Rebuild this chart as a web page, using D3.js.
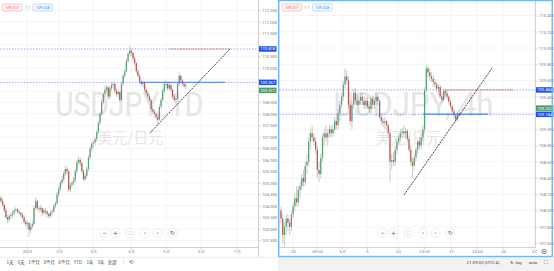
<!DOCTYPE html>
<html><head><meta charset="utf-8">
<script src="https://cdn.jsdelivr.net/npm/d3@7"></script>
<style>body{margin:0;background:#fff;overflow:hidden}svg{display:block;font-family:Roboto,"Noto Sans CJK SC",sans-serif}</style>
</head><body><svg id="c" width="554" height="271"></svg>
<script>
// ---------- DATA ----------
// Left: USDJPY daily candles [open, high, low, close]
const leftCandles = [
[104.35,104.45,104.1,104.2],[104.2,104.3,103.95,104.05],[104.05,104.1,103.7,103.8],[103.8,103.9,103.4,103.5],
[103.5,103.6,103.25,103.4],[103.4,103.65,103.3,103.55],[103.55,103.7,103.45,103.6],[103.6,103.8,103.5,103.7],
[103.7,103.9,103.6,103.8],[103.8,103.95,103.7,103.85],[103.85,103.9,103.65,103.75],[103.75,103.85,103.6,103.7],
[103.7,103.75,103.5,103.6],[103.6,103.7,103.4,103.5],[103.5,103.6,103.2,103.3],[103.3,103.4,103.1,103.2],
[103.2,103.35,103.0,103.25],[103.25,103.3,102.65,102.95],[102.95,103.25,102.8,103.1],[103.1,103.35,103.0,103.2],
[103.2,104.0,103.15,103.9],[103.9,104.35,103.8,104.2],[104.2,104.25,103.8,103.9],[103.9,104.0,103.7,103.85],
[103.85,104.05,103.75,103.9],[103.9,103.95,103.55,103.7],[103.7,103.9,103.6,103.8],[103.8,103.9,103.6,103.75],
[103.75,103.8,103.5,103.65],[103.65,103.7,103.45,103.55],[103.55,103.8,103.5,103.7],[103.7,103.85,103.6,103.75],
[103.75,104.1,103.7,104.0],[104.0,104.2,103.9,104.1],[104.1,104.6,104.05,104.5],[104.5,104.85,104.4,104.75],
[104.75,105.1,104.65,105.0],[105.0,105.3,104.9,105.15],[105.15,105.5,105.05,105.4],[105.4,105.75,105.3,105.6],
[105.6,105.7,105.35,105.5],[105.5,105.55,104.6,104.7],[104.7,105.0,104.6,104.9],[104.9,105.1,104.8,105.0],
[105.0,105.25,104.9,105.1],[105.1,105.6,105.05,105.5],[105.5,106.0,105.4,105.9],[105.9,106.15,105.8,106.0],
[106.0,106.1,105.7,105.85],[105.85,105.9,105.4,105.5],[105.5,105.6,105.1,105.15],[105.15,105.4,105.05,105.3],
[105.3,105.7,105.2,105.6],[105.6,106.2,105.5,106.1],[106.1,106.6,106.0,106.5],[106.5,106.8,106.35,106.7],
[106.7,106.85,106.5,106.75],[106.75,107.0,106.6,106.9],[106.9,107.3,106.8,107.2],[107.2,107.7,107.1,107.6],
[107.6,108.1,107.5,108.0],[108.0,108.65,107.9,108.5],[108.5,108.95,108.4,108.85],[108.85,109.2,108.7,109.05],
[109.05,109.25,108.9,109.15],[109.15,109.2,108.6,108.75],[108.75,109.2,108.65,109.1],[109.1,109.35,109.0,109.25],
[109.25,109.4,109.1,109.3],[109.3,109.35,108.9,109.0],[109.0,109.1,108.75,108.85],[108.85,109.05,108.7,108.95],
[108.95,109.0,108.5,108.6],[108.6,109.4,108.55,109.3],[109.3,109.75,109.2,109.65],[109.65,109.95,109.55,109.85],
[109.85,110.4,109.8,110.3],[110.3,110.7,110.2,110.6],[110.6,110.95,110.5,110.75],[110.75,110.85,110.5,110.65],
[110.65,110.7,110.3,110.4],[110.4,110.5,110.1,110.2],[110.2,110.25,109.75,109.85],[109.85,109.95,109.55,109.65],
[109.65,109.75,109.3,109.4],[109.4,109.5,109.2,109.3],[109.3,109.45,109.15,109.35],[109.35,109.4,108.95,109.05],
[109.05,109.15,108.8,108.9],[108.9,109.0,108.65,108.75],[108.75,108.85,108.5,108.6],[108.6,108.65,108.1,108.2],
[108.2,108.35,108.0,108.1],[108.1,108.2,107.85,108.0],[108.0,108.1,107.7,107.85],[107.85,108.0,107.5,107.75],
[107.75,108.4,107.7,108.3],[108.3,108.7,108.2,108.6],[108.6,109.1,108.5,109.0],[109.0,109.4,108.9,109.3],
[109.3,109.45,109.15,109.3],[109.3,109.4,109.0,109.1],[109.1,109.35,109.0,109.25],[109.25,109.3,108.95,109.05],
[109.05,109.1,108.65,108.75],[108.75,108.85,108.5,108.6],[108.6,108.75,108.4,108.65],[108.65,109.4,108.6,109.3],
[109.3,109.8,109.2,109.65],[109.65,109.7,109.35,109.45],[109.45,109.5,109.2,109.3],[109.3,109.35,109.1,109.2],
[109.2,109.35,109.1,109.25]
];
// Right: USDJPY 4h candles [open, high, low, close]
const rightCandles = [
[108.0,108.05,107.85,107.9],[107.9,107.95,107.6,107.7],[107.7,107.85,107.55,107.8],[107.8,107.95,107.7,107.9],
[107.9,107.95,107.75,107.85],[107.85,107.9,107.7,107.8],[107.8,108.0,107.75,107.95],[107.95,108.1,107.9,108.05],
[108.05,108.2,108.0,108.15],[108.15,108.3,108.05,108.1],[108.1,108.3,108.05,108.25],[108.25,108.35,108.15,108.3],
[108.3,108.45,108.25,108.4],[108.4,108.5,108.3,108.35],[108.35,108.6,108.3,108.55],[108.55,108.7,108.45,108.6],
[108.6,108.9,108.55,108.85],[108.85,109.0,108.75,108.95],[108.95,109.05,108.85,108.9],[108.9,108.95,108.8,108.85],
[108.85,108.9,108.7,108.75],[108.75,108.8,108.4,108.5],[108.5,108.6,108.35,108.45],[108.45,108.7,108.4,108.65],
[108.65,108.95,108.6,108.9],[108.9,109.0,108.8,108.95],[108.95,109.05,108.85,108.9],[108.9,109.0,108.8,108.95],
[108.95,109.05,108.9,109.0],[109.0,109.05,108.9,108.95],[108.95,109.05,108.9,109.0],[109.0,109.15,108.95,109.1],
[109.1,109.2,109.0,109.05],[109.05,109.25,109.0,109.2],[109.2,109.35,109.1,109.3],[109.3,109.45,109.25,109.4],
[109.4,109.6,109.35,109.55],[109.55,109.75,109.5,109.65],[109.65,109.72,109.55,109.6],[109.6,109.65,109.25,109.3],
[109.3,109.35,109.05,109.1],[109.1,109.35,109.0,109.3],[109.3,109.5,109.25,109.45],[109.45,109.5,109.3,109.35],
[109.35,109.45,109.25,109.3],[109.3,109.4,109.2,109.35],[109.35,109.45,109.3,109.4],[109.4,109.45,109.3,109.35],
[109.35,109.4,109.25,109.3],[109.3,109.4,109.25,109.35],[109.35,109.4,109.25,109.28],[109.28,109.35,109.2,109.25],
[109.25,109.4,109.2,109.38],[109.38,109.42,109.25,109.3],[109.3,109.4,109.25,109.35],[109.35,109.45,109.3,109.4],
[109.4,109.42,109.3,109.35],[109.35,109.36,109.12,109.15],[109.15,109.2,109.05,109.1],[109.1,109.15,109.02,109.08],
[109.08,109.15,109.0,109.1],[109.1,109.12,109.0,109.05],[109.05,109.08,108.9,108.95],[108.95,109.0,108.35,108.6],
[108.6,108.7,108.5,108.62],[108.62,108.72,108.55,108.6],[108.6,108.8,108.55,108.75],[108.75,108.88,108.7,108.85],
[108.85,108.95,108.8,108.9],[108.9,109.0,108.85,108.95],[108.95,109.02,108.88,108.97],[108.97,109.05,108.9,108.95],
[108.95,109.02,108.88,108.98],[108.98,109.0,108.85,108.88],[108.88,108.92,108.72,108.75],[108.75,108.8,108.55,108.6],
[108.6,108.65,108.4,108.55],[108.55,108.7,108.5,108.65],[108.65,108.78,108.6,108.75],[108.75,108.88,108.7,108.85],
[108.85,108.9,108.75,108.8],[108.8,108.95,108.75,108.9],[108.9,109.05,108.85,109.0],[109.0,109.52,108.95,109.48],
[109.48,109.8,109.45,109.75],[109.75,109.78,109.65,109.7],[109.7,109.74,109.6,109.65],[109.65,109.7,109.58,109.62],
[109.62,109.66,109.52,109.58],[109.58,109.62,109.5,109.55],[109.55,109.58,109.45,109.5],[109.5,109.55,109.42,109.52],
[109.52,109.55,109.38,109.4],[109.4,109.45,109.32,109.36],[109.36,109.5,109.34,109.47],[109.47,109.5,109.4,109.44],
[109.44,109.48,109.36,109.4],[109.4,109.42,109.3,109.34],[109.34,109.37,109.25,109.28],[109.28,109.3,109.18,109.22],
[109.22,109.25,109.12,109.17],[109.17,109.2,109.08,109.12],[109.12,109.22,109.1,109.2],[109.2,109.24,109.15,109.18]
];
const leftPriceTicks = [102.5,103,103.5,104,104.5,105,105.5,106,106.5,107,107.5,108,108.5,109,109.5,110,110.5,111,111.5,112,112.5];
const rightPriceTicks = [107.6,107.8,108,108.2,108.4,108.6,108.8,109,109.2,109.4,109.6,109.8,110,110.2,110.4];
const leftTimeLabels = ["2021","2月","3月","4月","5月","6月","7月"];
const leftTimeIdx = [15.8,35.2,55.8,78.8,100,121.2,143];
const rightTimeLabels = ["26","09:00","5月","5","10","13:00","17","13:00","24","27"];
const rightTimeIdx = [6.9,20.8,35.3,49.7,67.6,82.7,98.3,113.3,128.3,146.2];
// horizontal levels [price, segStartIdx, segEndIdx, kind]
const leftLevels = [[110.818,102.4,138.8,"red"],[109.367,84.2,135.8,"blue"]];
const rightLevels = [[109.484,94.8,134,"red"],[109.184,82,119.6,"blue"]];
// trend lines [idx1, price1, idx2, price2]
const leftTrend = [90.3,107.17,139.4,110.86];
const rightTrend = [71.1,108.19,122,109.754];
// axis badges [price-position, text, colour]
const leftBadges = [[110.818,"110.818","blue"],[109.367,"109.367","blue"],[109.02,"109.317","green"]];
const rightBadges = [[109.484,"109.484","blue"],[109.26,"109.251","green"],[109.184,"109.184","blue"]];
const quoteLeft = ["109.317","1.1","109.328"];
const quoteRight = ["109.317","1.1","109.328"];
const rangeButtons = ["1天","5天","1个月","3个月","6个月","YTD","1年","5年","全部"];

// ---------- DRAW ----------
const svg = d3.select('#c');
const UP = "#52a06f", DN = "#b5544a", WICK = "#a8a8a8";
const badgeCol = {blue:"#2150f0", green:"#4f9a6c"};

function panel(cfg){
  const g = svg.append('g');
  const x = d3.scaleLinear().domain([0,1]).range([cfg.x0, cfg.x0+cfg.step]);
  const y = d3.scaleLinear().domain(cfg.yDom).range(cfg.yRng);
  const cid = 'clip'+cfg.id;
  svg.append('clipPath').attr('id',cid).append('rect')
    .attr('x',cfg.left).attr('y',0).attr('width',cfg.axisX-cfg.left).attr('height',cfg.bottom);
  const plot = g.append('g').attr('clip-path',`url(#${cid})`);
  // grid
  plot.selectAll('.vg').data(cfg.tIdx).join('line').attr('class','vg')
    .attr('x1',d=>x(d)).attr('x2',d=>x(d)).attr('y1',0).attr('y2',cfg.bottom)
    .attr('stroke','#eef0f4').attr('stroke-width',0.7);
  plot.selectAll('.hg').data(cfg.pTicks).join('line').attr('class','hg')
    .attr('x1',cfg.left).attr('x2',cfg.axisX).attr('y1',d=>y(d)).attr('y2',d=>y(d))
    .attr('stroke','#eef0f4').attr('stroke-width',0.7);
  // watermark
  const cx = (cfg.left+cfg.axisX)/2;
  plot.append('text').attr('x',cx+cfg.wmDx).attr('y',116).attr('text-anchor','middle')
    .attr('font-size',33).attr('fill','#e5e5e5').attr('textLength',cfg.wmLen).attr('lengthAdjust','spacingAndGlyphs')
    .text(cfg.wm);
  plot.append('text').attr('x',cx+1).attr('y',143).attr('text-anchor','middle')
    .attr('font-size',15).attr('fill','#e5e5e5').attr('font-family','"Noto Sans CJK SC"').text('美元/日元');
  // level lines
  plot.selectAll('.lvl').data(cfg.levels).join('line').attr('class','lvl')
    .attr('x1',cfg.left).attr('x2',cfg.axisX).attr('y1',d=>y(d[0])).attr('y2',d=>y(d[0]))
    .attr('stroke','#8a8af2').attr('stroke-width',0.8).attr('stroke-dasharray','1.5,1.5');
  // candles
  const cg = plot.append('g');
  cg.selectAll('.wk').data(cfg.data).join('line').attr('class','wk')
    .attr('x1',(d,i)=>x(i)).attr('x2',(d,i)=>x(i)).attr('y1',d=>y(d[1])).attr('y2',d=>y(d[2]))
    .attr('stroke',WICK).attr('stroke-width',0.6);
  cg.selectAll('.bd').data(cfg.data).join('rect').attr('class','bd')
    .attr('x',(d,i)=>x(i)-0.6).attr('width',1.2)
    .attr('y',d=>y(Math.max(d[0],d[3])))
    .attr('height',d=>Math.max(0.7,Math.abs(y(d[0])-y(d[3]))))
    .attr('fill',d=>d[3]>=d[0]?UP:DN);
  // level segments
  plot.selectAll('.seg').data(cfg.levels).join('line').attr('class','seg')
    .attr('x1',d=>x(d[1])).attr('x2',d=>x(d[2])).attr('y1',d=>y(d[0])).attr('y2',d=>y(d[0]))
    .attr('stroke',d=>d[3]==='red'?'#e46a6a':'#3f7de8')
    .attr('stroke-width',d=>d[3]==='red'?1.2:1.4)
    .attr('stroke-dasharray',d=>d[3]==='red'?'1.5,0.8':null)
    .attr('opacity',d=>d[3]==='red'?0.85:0.75);
  // trend
  const t = cfg.trend;
  plot.append('line').attr('x1',x(t[0])).attr('y1',y(t[1])).attr('x2',x(t[2])).attr('y2',y(t[3]))
    .attr('stroke','#2a2a44').attr('stroke-width',0.9).attr('stroke-dasharray','2,1');
  // price axis
  g.append('line').attr('x1',cfg.axisX).attr('x2',cfg.axisX).attr('y1',0).attr('y2',cfg.axisBottom)
    .attr('stroke','#c7c7c7').attr('stroke-width',0.8);
  const pa = g.append('g').attr('transform',`translate(${cfg.axisX},0)`)
    .call(d3.axisRight(y).tickValues(cfg.pTicks).tickSize(2).tickPadding(1.5).tickFormat(d3.format('.3f')));
  pa.select('.domain').remove();
  pa.selectAll('line').attr('stroke','#aaa').attr('stroke-width',0.5);
  pa.selectAll('text').attr('font-size',4.2).attr('fill','#7a7a7a').attr('font-family','Roboto');
  // hide tick labels covered by badges (as the platform does)
  pa.selectAll('.tick').filter(d=>cfg.badges.some(b=>Math.abs(y(b[0])-y(d))<5.6)).select('text').remove();
  // badges
  const bg = g.append('g');
  cfg.badges.forEach(b=>{
    const yy = y(b[0]);
    bg.append('rect').attr('x',cfg.axisX+0.5).attr('y',yy-2.75).attr('width',17.5).attr('height',5.5)
      .attr('fill',badgeCol[b[2]]);
    bg.append('text').attr('x',cfg.axisX+9.2).attr('y',yy+1.45).attr('text-anchor','middle')
      .attr('font-size',4.1).attr('fill','#fff').attr('font-family','Roboto').text(b[1]);
  });
  // time axis
  g.append('line').attr('x1',cfg.left).attr('x2',cfg.axisX).attr('y1',cfg.bottom).attr('y2',cfg.bottom)
    .attr('stroke','#c7c7c7').attr('stroke-width',0.8);
  const ta = g.append('g').attr('transform',`translate(0,${cfg.bottom})`)
    .call(d3.axisBottom(x).tickValues(cfg.tIdx).tickSize(1.8).tickPadding(1).tickFormat((d,i)=>cfg.tLab[i]));
  ta.select('.domain').remove();
  ta.selectAll('line').attr('stroke','#aaa').attr('stroke-width',0.5);
  ta.selectAll('text').attr('font-size',4.2).attr('fill','#7a7a7a');
  // header quote boxes
  const q = cfg.quote, hx = cfg.left+2.5;
  g.append('rect').attr('x',hx).attr('y',4).attr('width',19.5).attr('height',7).attr('rx',1.5)
    .attr('fill','#fff6f6').attr('stroke','#f3a5a5').attr('stroke-width',0.6);
  g.append('text').attr('x',hx+9.75).attr('y',8.9).attr('text-anchor','middle').attr('font-size',3.8)
    .attr('fill','#ef5350').text(q[0]);
  g.append('text').attr('x',hx+25).attr('y',8.9).attr('text-anchor','middle').attr('font-size',3.8)
    .attr('fill','#888').text(q[1]);
  g.append('rect').attr('x',hx+30.5).attr('y',4).attr('width',19.5).attr('height',7).attr('rx',1.5)
    .attr('fill','#f4f9ff').attr('stroke','#9ccbf5').attr('stroke-width',0.6);
  g.append('text').attr('x',hx+40.25).attr('y',8.9).attr('text-anchor','middle').attr('font-size',3.8)
    .attr('fill','#2f86e8').text(q[2]);
  // zoom buttons
  const bx = cfg.btnX, byy = 233;
  const glyphs = ['−','+','⛶','‹','›','↻'];
  const offs = [-24.5,-13.5,1.5,16,28.5,43.5];
  offs.forEach((o,k)=>{
    g.append('circle').attr('cx',bx+o).attr('cy',byy).attr('r',4.6).attr('fill','#fff')
      .attr('stroke','#e3e3e3').attr('stroke-width',0.6);
    g.append('text').attr('x',bx+o).attr('y',byy+ (k===2?1.8:2)).attr('text-anchor','middle')
      .attr('font-size',k===2?4.5:6).attr('fill','#555').attr('font-family','"DejaVu Sans"').text(glyphs[k]);
  });
  return {x,y};
}

panel({id:'L', x0:1, step:1.65, yDom:[102.5,112.5], yRng:[240.3,10.3], left:0, axisX:258.5, bottom:247.5, axisBottom:257,
  data:leftCandles, pTicks:leftPriceTicks, tIdx:leftTimeIdx, tLab:leftTimeLabels, levels:leftLevels, trend:leftTrend,
  badges:leftBadges, wm:'USDJPY, 1D', wmLen:148, wmDx:0, quote:quoteLeft, btnX:129});
panel({id:'R', x0:281, step:1.73, yDom:[107.6,110.0], yRng:[243,48], left:279.5, axisX:535.5, bottom:247.5, axisBottom:247.5,
  data:rightCandles, pTicks:rightPriceTicks, tIdx:rightTimeIdx, tLab:rightTimeLabels, levels:rightLevels, trend:rightTrend,
  badges:rightBadges, wm:'USDJPY, 4h', wmLen:160, wmDx:6, quote:quoteRight, btnX:407});

// bottom bars
svg.append('line').attr('x1',0).attr('x2',278).attr('y1',257.3).attr('y2',257.3).attr('stroke','#dcdcdc').attr('stroke-width',0.6);
svg.append('rect').attr('x',278).attr('y',257).attr('width',276).attr('height',14).attr('fill','#f2f2f2');
const rbX = [10,21,34,49,64,78,90,101,112];
rangeButtons.forEach((t,i)=>{
  svg.append('text').attr('x',rbX[i]).attr('y',263.8).attr('text-anchor','middle').attr('font-size',4.6)
    .attr('fill','#444').attr('font-family','"Noto Sans CJK SC"').text(t);
});
svg.append('line').attr('x1',123.5).attr('x2',123.5).attr('y1',258.5).attr('y2',265.5).attr('stroke','#ddd').attr('stroke-width',0.6);
svg.append('text').attr('x',131).attr('y',264.2).attr('text-anchor','middle').attr('font-size',5.5).attr('fill','#555')
  .attr('font-family','"DejaVu Sans"').text('⟲');
// right toolbar
svg.append('text').attr('x',483).attr('y',263.8).attr('text-anchor','middle').attr('font-size',4.4).attr('fill','#444').text('21:09:03 (UTC-4)');
svg.append('text').attr('x',511.5).attr('y',263.8).attr('text-anchor','middle').attr('font-size',4.4).attr('fill','#444').text('%');
svg.append('text').attr('x',518.5).attr('y',263.8).attr('text-anchor','middle').attr('font-size',4.4).attr('fill','#444').text('log');
svg.append('text').attr('x',533).attr('y',263.8).attr('text-anchor','middle').attr('font-size',4.4).attr('fill','#444').text('auto');
svg.append('text').attr('x',545.5).attr('y',264.3).attr('text-anchor','middle').attr('font-size',5.5).attr('fill','#555')
  .attr('font-family','"DejaVu Sans"').text('⛶');
// gear
svg.append('circle').attr('cx',544).attr('cy',251.5).attr('r',2.2).attr('fill','none').attr('stroke','#555').attr('stroke-width',0.7);
svg.append('circle').attr('cx',544).attr('cy',251.5).attr('r',0.8).attr('fill','#555');
// right panel border
svg.append('rect').attr('x',278.75).attr('y',0.5).attr('width',273.5).attr('height',256).attr('fill','none')
  .attr('stroke','#74b5f3').attr('stroke-width',1.4);
</script></body></html>
